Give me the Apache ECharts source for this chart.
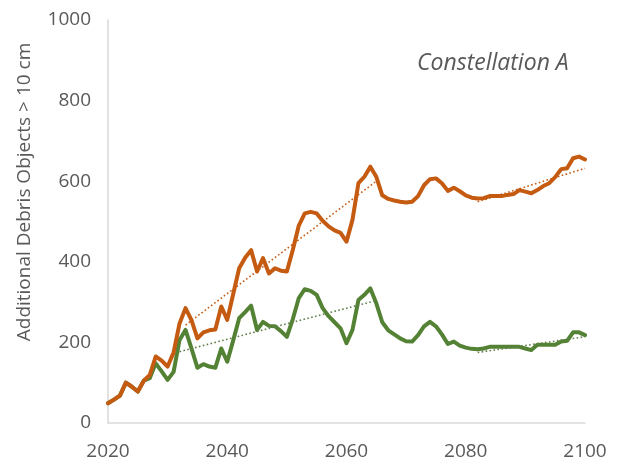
<!DOCTYPE html>
<html>
<head>
<meta charset="utf-8">
<script src="https://cdn.jsdelivr.net/npm/echarts@6/dist/echarts.min.js"></script>
<style>
  html, body { margin: 0; padding: 0; background: #fff; }
  #chart { width: 621px; height: 465px; }
</style>
</head>
<body>
<div id="chart"></div>
<script>
// Simulation years (one value per year)
const years = [];
for (let y = 2020; y <= 2100; y++) years.push(y);

// Orange run: additional debris objects > 10 cm
const orangeValues = [
  49, 58, 68, 100, 90, 78, 105, 119, 165, 155,
  140, 175, 247, 285, 255, 210, 225, 230, 232, 289,
  256, 320, 384, 410, 429, 376, 409, 371, 384, 378,
  376, 430, 490, 520, 524, 520, 502, 488, 478, 472,
  450, 504, 595, 611, 636, 611, 565, 556, 552, 549,
  547, 549, 563, 590, 605, 607, 595, 576, 584, 575,
  565, 559, 557, 558, 563, 563, 563, 566, 568, 578,
  574, 570, 578, 588, 595, 610, 630, 632, 657, 661,
  654
];

// Green run
const greenValues = [
  49, 58, 68, 100, 90, 78, 105, 111, 148, 128,
  107, 127, 206, 231, 185, 137, 146, 140, 137, 185,
  152, 205, 260, 275, 291, 231, 251, 241, 240, 228,
  214, 258, 310, 332, 328, 318, 285, 265, 250, 235,
  198, 231, 305, 318, 334, 297, 250, 230, 220, 210,
  203, 202, 218, 240, 251, 240, 220, 196, 202, 192,
  187, 184, 183, 185, 189, 189, 189, 189, 189, 189,
  185, 181, 194, 194, 194, 194, 202, 204, 225, 225,
  218
];

// Linear trend segments: [startYear, startValue, endYear, endValue]
const orangeTrendA = [2033, 243, 2065, 600];
const orangeTrendB = [2082, 549, 2100, 632];
const greenTrendA  = [2032, 177, 2065, 304];
const greenTrendB  = [2082, 175, 2100, 214];

// Axis ticks
const xTicks = [2020, 2040, 2060, 2080, 2100];
const yTicks = [0, 200, 400, 600, 800, 1000];

const ORANGE = '#C55A11';
const GREEN = '#548235';
const TEXT = '#595959';
const FONT = '"Open Sans", sans-serif';

const pairs = (vals) => years.map((y, i) => [y, vals[i]]);
const seg = (t) => [[t[0], t[1]], [t[2], t[3]]];

function trend(data, color) {
  return {
    type: 'line', data: seg(data), symbol: 'none', silent: true, z: 3,
    lineStyle: { color: color, width: 1.6, type: [1.6, 2.4] }
  };
}

const chart = echarts.init(document.getElementById('chart'), null, { renderer: 'canvas' });
chart.setOption({
  animation: false,
  backgroundColor: '#fff',
  grid: { left: 108, right: 36, top: 20, bottom: 42 },
  title: {
    text: 'Constellation A',
    left: 412, top: 47,
    textStyle: { fontFamily: FONT, fontStyle: 'italic', fontWeight: 'normal', fontSize: 23, color: TEXT }
  },
  xAxis: {
    type: 'value',
    min: xTicks[0], max: xTicks[xTicks.length - 1], interval: 20,
    axisLine: { show: true, lineStyle: { color: '#d9d9d9', width: 1.5 } },
    axisTick: { show: false },
    splitLine: { show: false },
    axisLabel: { color: TEXT, fontFamily: FONT, fontSize: 19, margin: 19,
      formatter: (v) => xTicks.includes(v) ? String(v) : '' }
  },
  yAxis: {
    type: 'value',
    min: yTicks[0], max: yTicks[yTicks.length - 1], interval: 200,
    axisLine: { show: true, lineStyle: { color: '#d9d9d9', width: 1.5 } },
    axisTick: { show: false },
    splitLine: { show: false },
    axisLabel: { color: TEXT, fontFamily: FONT, fontSize: 19, margin: 17,
      formatter: (v) => yTicks.includes(v) ? String(v) : '' }
  },
  graphic: [{
    type: 'text',
    x: 25, y: 192, rotation: Math.PI / 2,
    style: {
      text: 'Additional Debris Objects > 10 cm',
      fill: TEXT, font: '19px ' + FONT,
      align: 'center', verticalAlign: 'middle'
    }
  }],
  series: [
    { type: 'line', data: pairs(greenValues), symbol: 'none', z: 2,
      lineStyle: { color: GREEN, width: 4, join: 'round', cap: 'round' } },
    { type: 'line', data: pairs(orangeValues), symbol: 'none', z: 2,
      lineStyle: { color: ORANGE, width: 4, join: 'round', cap: 'round' } },
    trend(orangeTrendA, ORANGE),
    trend(orangeTrendB, ORANGE),
    trend(greenTrendA, '#5f7f4a'),
    trend(greenTrendB, '#5f7f4a')
  ]
});
</script>
</body>
</html>
